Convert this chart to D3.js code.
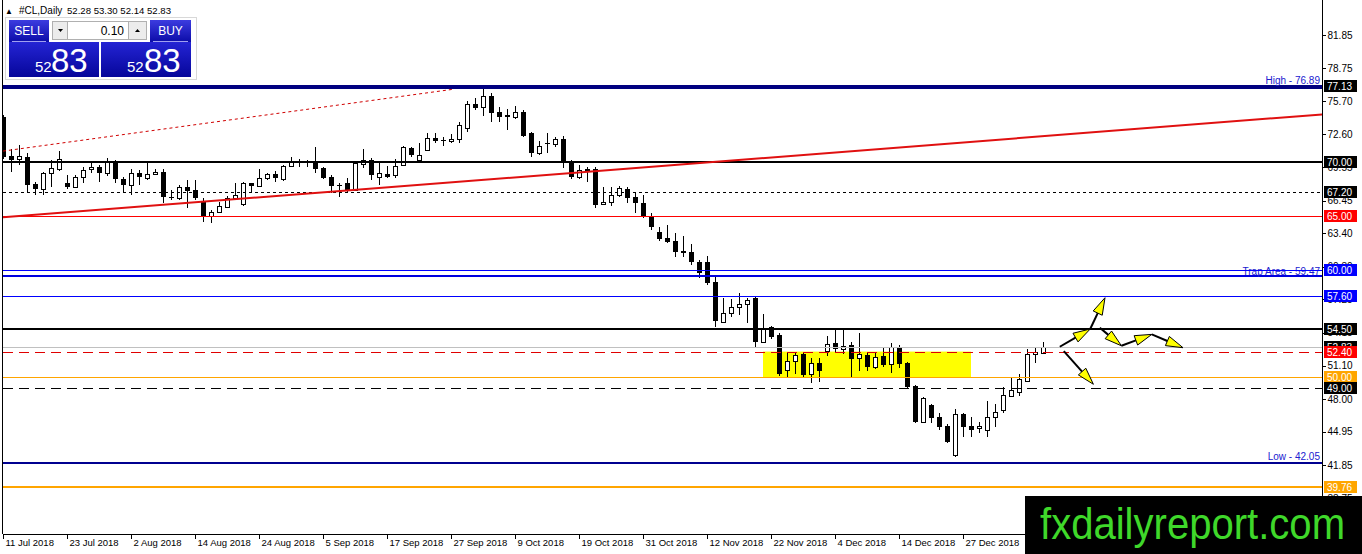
<!DOCTYPE html>
<html>
<head>
<meta charset="utf-8">
<script src="https://cdn.jsdelivr.net/npm/d3@7"></script>
<style>
html, body { margin: 0; padding: 0; background: #fff; overflow: hidden; }
svg { display: block; font-family: "Liberation Sans", Arial, sans-serif; }
</style>
</head>
<body>
<svg id="chart" width="1362" height="554"></svg>
<script>
// daily bars of #CL, 11 Jul 2018 .. 11 Jan 2019
const opens = [74.25,70.59,70.34,70.47,67.99,67.49,68.98,69.35,68.05,67.74,68.67,69.35,69.54,68.98,70.16,68.42,67.89,68.98,68.58,68.92,
  69.07,66.81,66.66,67.68,67.43,66.44,65.01,65.41,65.82,66.66,66.13,68.05,67.80,68.51,68.89,68.42,69.69,70.06,70.06,69.91,
  69.45,68.61,67.89,68.11,67.43,69.85,70.22,68.67,68.89,68.83,69.75,71.30,70.22,71.15,72.24,72.08,71.96,72.14,73.17,75.43,
  75.12,76.17,74.71,74.40,74.19,74.71,72.76,70.90,71.83,71.71,72.14,70.06,68.61,69.35,69.35,66.13,66.35,66.97,67.49,66.75,
  66.25,64.95,63.56,62.94,62.69,61.76,61.70,60.77,60.77,58.91,55.19,55.96,56.52,56.83,57.36,53.33,54.66,53.95,50.69,51.56,
  52.18,50.32,51.31,52.49,53.17,52.61,53.02,51.78,52.09,50.94,51.99,51.25,52.80,51.37,49.20,45.89,47.44,46.35,45.48,42.79,
  46.60,45.48,45.27,45.11,46.29,46.97,48.27,48.68,49.70,52.18,52.28];
const highs = [74.40,71.21,71.61,70.90,68.20,69.13,70.22,71.09,68.83,68.83,69.54,69.91,69.75,70.37,70.22,68.61,69.35,69.29,69.97,69.35,
  69.35,67.43,67.89,68.36,68.36,66.66,65.57,66.35,66.87,68.05,68.20,68.11,69.35,69.04,69.20,69.75,70.47,70.28,70.22,71.40,
  69.54,68.83,68.05,68.51,70.06,71.21,70.37,69.91,69.66,70.28,71.52,71.46,71.83,72.76,72.70,72.33,72.64,73.79,75.74,75.95,
  76.79,76.42,75.18,74.93,75.24,74.87,72.86,72.02,72.76,72.33,72.45,70.22,69.75,69.60,69.54,67.68,67.74,67.80,67.74,67.27,
  66.96,65.30,64.02,64.18,63.40,63.15,62.41,60.92,61.29,59.31,57.36,57.26,57.88,57.36,57.45,55.90,54.78,54.10,52.24,52.40,
  52.40,51.78,51.78,53.85,54.41,54.41,53.33,54.16,52.40,52.40,52.70,53.23,53.01,51.47,49.30,48.15,47.53,46.66,45.67,47.03,
  46.72,46.29,45.89,47.84,47.53,49.14,49.92,50.32,52.61,52.86,53.30];
const lows = [70.35,69.13,69.75,67.12,66.96,66.96,67.74,69.23,67.49,67.59,68.05,68.98,68.20,68.73,68.05,67.18,66.96,67.89,68.36,68.83,
  66.25,66.50,66.50,65.73,66.50,64.49,64.39,65.26,65.73,66.50,65.94,67.12,67.74,68.36,68.20,68.30,69.54,69.60,69.54,68.98,
  68.42,67.12,66.81,67.27,67.37,69.45,68.36,67.89,68.51,68.51,69.66,70.53,70.06,71.09,71.77,71.52,71.77,71.83,72.86,74.87,
  74.31,73.79,73.79,73.01,74.00,72.33,70.47,70.68,70.84,71.46,69.45,68.42,68.42,68.20,65.73,66.03,65.94,66.81,66.25,65.32,
  64.80,63.70,62.70,62.53,61.23,61.17,60.46,59.22,58.60,54.72,55.09,55.59,55.81,55.03,52.80,53.23,53.54,50.13,50.07,50.32,
  50.07,49.45,49.61,51.99,52.40,52.18,50.07,50.63,50.63,50.75,50.94,50.38,50.85,48.99,45.79,45.79,45.73,45.11,43.93,42.57,
  44.43,44.43,44.80,44.43,45.36,46.66,48.15,48.27,49.60,51.37,52.14];
const closes = [70.53,70.22,70.59,67.89,67.55,68.98,69.45,70.28,67.74,68.67,69.29,69.54,68.98,70.06,68.42,67.89,68.98,68.61,68.89,69.10,
  66.75,66.66,67.74,67.37,66.66,64.95,65.41,65.94,66.66,66.97,68.05,67.80,68.51,68.89,68.51,69.66,70.06,70.16,69.91,69.35,
  68.58,67.80,67.80,67.43,69.91,70.22,68.83,68.98,68.67,69.66,71.46,70.68,70.68,72.24,71.99,71.96,72.14,73.48,75.43,75.03,
  76.17,74.62,74.25,74.25,74.71,72.45,70.84,71.52,71.71,72.14,70.06,68.61,69.29,69.13,66.03,66.35,66.97,67.58,66.66,66.25,
  64.89,63.95,62.84,62.63,61.70,61.54,60.77,59.74,58.81,55.28,55.96,56.52,56.83,57.20,53.33,54.47,53.79,50.32,51.56,52.09,
  50.23,51.31,50.63,53.11,52.61,52.92,51.68,52.18,50.94,51.93,51.16,52.86,51.25,49.08,45.89,48.06,46.20,45.36,44.02,46.60,
  45.42,45.11,45.48,46.29,46.81,48.37,48.83,49.82,52.18,52.40,52.83];

const dateTicks = [0, 8, 16, 24, 32, 40, 48, 56, 64, 72, 80, 88, 96, 104, 112, 120];
const dateLabels = ['11 Jul 2018', '23 Jul 2018', '2 Aug 2018', '14 Aug 2018', '24 Aug 2018', '5 Sep 2018',
  '17 Sep 2018', '27 Sep 2018', '9 Oct 2018', '19 Oct 2018', '31 Oct 2018', '12 Nov 2018',
  '22 Nov 2018', '4 Dec 2018', '14 Dec 2018', '27 Dec 2018'];
const priceTicks = [81.85, 78.75, 75.70, 72.60, 69.55, 66.45, 63.40, 60.30, 57.25, 54.15, 51.10, 48.00, 44.95, 41.85, 38.75];

// horizontal levels drawn on the chart
const levelPrices = [77.13, 76.89, 70.00, 67.20, 65.00, 60.00, 59.47, 57.60, 54.50, 52.83, 52.40, 50.00, 49.00, 42.05, 39.76];
// price tags on the right scale
const tagPrices = [77.13, 70.00, 67.20, 65.00, 60.00, 57.60, 54.50, 52.83, 52.40, 50.00, 49.00, 39.76];
// trend lines as [bar, price] pairs
const trendMain = [[0, 64.89], [164.4, 74.43]];
const trendDotted = [[0, 71.05], [56.25, 76.80]];
// yellow range box: bars and prices
const zoneBars = [95, 121];
const zonePrices = [52.40, 50.00];
// hand-drawn arrows, [bar, price] -> [bar, price]
const arrows = [
  [[132.1, 52.85], [135.9, 54.50]],
  [[135.9, 54.50], [137.75, 57.41]],
  [[137.1, 54.62], [139.8, 52.94]],
  [[139.8, 52.94], [143.6, 54.00]],
  [[143.6, 54.00], [147.5, 52.76]],
  [[132.6, 52.45], [136.3, 49.36]]
];
const header = { symbol: '#CL,Daily', ohlc: '52.28 53.30 52.14 52.83', lot: '0.10', bidBig: '83', bidSmall: '52', askBig: '83', askSmall: '52' };

const plot = { left: 3, right: 1322, top: 0, bottom: 534 };
const svg = d3.select('#chart');

const x = d3.scaleLinear().domain([0, 130]).range([3, 1043]);
const y = d3.scaleLinear().domain([81.85, 41.85]).range([35, 465]);
const py = p => Math.round(y(p));

svg.append('defs').append('clipPath').attr('id', 'plotclip')
  .append('rect').attr('x', plot.left).attr('y', plot.top)
  .attr('width', plot.right - plot.left).attr('height', plot.bottom - plot.top);

const g = svg.append('g').attr('clip-path', 'url(#plotclip)');

// yellow box
g.append('rect')
  .attr('x', x(zoneBars[0])).attr('y', y(zonePrices[0]))
  .attr('width', x(zoneBars[1]) - x(zoneBars[0]))
  .attr('height', y(zonePrices[1]) - y(zonePrices[0]))
  .attr('fill', '#ffff00');

// candles
const bars = d3.range(opens.length).map(i => ({ i, o: opens[i], h: highs[i], l: lows[i], c: closes[i] }));
const cg = g.append('g').attr('shape-rendering', 'crispEdges');
cg.selectAll('line.wick').data(bars).enter().append('line')
  .attr('x1', d => Math.round(x(d.i)) + 0.5).attr('x2', d => Math.round(x(d.i)) + 0.5)
  .attr('y1', d => py(d.h)).attr('y2', d => py(d.l))
  .attr('stroke', '#000').attr('stroke-width', 1);
cg.selectAll('rect.body').data(bars).enter().append('rect')
  .attr('x', d => Math.round(x(d.i)) - (d.c >= d.o ? 1.5 : 2))
  .attr('y', d => py(Math.max(d.o, d.c)) + (d.c >= d.o ? 0.5 : 0))
  .attr('width', d => d.c >= d.o ? 4 : 5)
  .attr('height', d => Math.max(1, py(Math.min(d.o, d.c)) - py(Math.max(d.o, d.c))) - (d.c >= d.o ? 0 : 0))
  .attr('fill', d => d.c >= d.o ? '#fff' : '#000')
  .attr('stroke', d => d.c >= d.o ? '#000' : 'none')
  .attr('stroke-width', 1);

// horizontal levels
const levelStyle = [
  { stroke: '#000080', w: 2 },
  { stroke: '#000080', w: 2 },
  { stroke: '#000000', w: 2 },
  { stroke: '#000000', w: 1, dash: '3,3' },
  { stroke: '#ff0000', w: 1 },
  { stroke: '#0000ff', w: 1 },
  { stroke: '#0000e0', w: 2 },
  { stroke: '#0000ff', w: 1 },
  { stroke: '#000000', w: 2 },
  { stroke: '#c0c0c0', w: 1 },
  { stroke: '#e00000', w: 1, dash: '10,6' },
  { stroke: '#ffa500', w: 1 },
  { stroke: '#000000', w: 1, dash: '10,6' },
  { stroke: '#000090', w: 2 },
  { stroke: '#ffa500', w: 2 }
];
const lg = g.append('g').attr('shape-rendering', 'crispEdges');
lg.selectAll('line').data(levelPrices).enter().append('line')
  .attr('x1', plot.left).attr('x2', plot.right)
  .attr('y1', (d, i) => py(d) + (levelStyle[i].w === 1 ? 0.5 : 0))
  .attr('y2', (d, i) => py(d) + (levelStyle[i].w === 1 ? 0.5 : 0))
  .attr('stroke', (d, i) => levelStyle[i].stroke)
  .attr('stroke-width', (d, i) => levelStyle[i].w)
  .attr('stroke-dasharray', (d, i) => levelStyle[i].dash || null);

// trend lines
const t0 = trendMain[0], t1 = trendMain[1];
const slope = (t1[1] - t0[1]) / (t1[0] - t0[0]);
const farBar = x.invert(plot.right + 5);
g.append('line')
  .attr('x1', x(t0[0])).attr('y1', y(t0[1]))
  .attr('x2', x(farBar)).attr('y2', y(t0[1] + slope * (farBar - t0[0])))
  .attr('stroke', '#e01010').attr('stroke-width', 2);
g.append('line')
  .attr('x1', x(trendDotted[0][0])).attr('y1', y(trendDotted[0][1]))
  .attr('x2', x(trendDotted[1][0])).attr('y2', y(trendDotted[1][1]))
  .attr('stroke', '#d00000').attr('stroke-width', 1).attr('stroke-dasharray', '3,3');

// arrows
const ag = g.append('g');
arrows.forEach(([a, b]) => {
  const x0 = x(a[0]), y0 = y(a[1]), x1 = x(b[0]), y1 = y(b[1]);
  const len = Math.hypot(x1 - x0, y1 - y0);
  const ux = (x1 - x0) / len, uy = (y1 - y0) / len;
  const hl = 17, hw = 5;
  const bx = x1 - ux * hl, by = y1 - uy * hl;
  ag.append('line').attr('x1', x0).attr('y1', y0).attr('x2', bx).attr('y2', by)
    .attr('stroke', '#000').attr('stroke-width', 2);
  ag.append('path')
    .attr('d', `M${x1},${y1}L${bx - uy * hw},${by + ux * hw}L${bx + uy * hw},${by - ux * hw}Z`)
    .attr('fill', '#ffff00').attr('stroke', '#000').attr('stroke-width', 1);
});

// object labels
const notes = [
  { text: 'High - 76.89', p: 76.89, dy: -4 },
  { text: 'Trap Area - 59.47', p: 59.47, dy: -1 },
  { text: 'Low - 42.05', p: 42.05, dy: -3 }
];
g.selectAll('text.note').data(notes).enter().append('text')
  .attr('x', plot.right - 2).attr('y', d => y(d.p) + d.dy)
  .attr('text-anchor', 'end').attr('font-size', 10).attr('fill', '#2020d0')
  .text(d => d.text);
// strike-through line of the trap note sits over the text
g.append('line').attr('x1', 1240).attr('x2', plot.right)
  .attr('y1', py(60.00) + 0.5).attr('y2', py(60.00) + 0.5)
  .attr('stroke', '#0000ff').attr('stroke-width', 1).attr('shape-rendering', 'crispEdges');

// frame
svg.append('line').attr('x1', 2.5).attr('x2', 2.5).attr('y1', 0).attr('y2', plot.bottom)
  .attr('stroke', '#000').attr('shape-rendering', 'crispEdges');
svg.append('line').attr('x1', plot.right + 0.5).attr('x2', plot.right + 0.5).attr('y1', 0).attr('y2', plot.bottom)
  .attr('stroke', '#000').attr('shape-rendering', 'crispEdges');

// bottom date axis
const xAxis = d3.axisBottom(x).tickValues(dateTicks).tickFormat((d, i) => dateLabels[i]).tickSize(4).tickSizeOuter(0);
const xg = svg.append('g').attr('transform', `translate(0,${plot.bottom + 0.5})`).call(xAxis);
xg.select('.domain').attr('d', `M${plot.left},0H${plot.right}`).attr('stroke', '#000');
xg.selectAll('.tick line').attr('stroke', '#000').attr('shape-rendering', 'crispEdges');
xg.selectAll('.tick text').attr('text-anchor', 'start').attr('x', 2).attr('y', 3)
  .attr('dy', '0.85em').attr('font-size', 9.5).attr('font-family', '"Liberation Sans", Arial, sans-serif').attr('fill', '#000');

// right price axis
const yAxis = d3.axisRight(y).tickValues(priceTicks).tickFormat(d3.format('.2f')).tickSize(3);
const yg = svg.append('g').attr('transform', `translate(${plot.right + 0.5},0)`).call(yAxis);
yg.select('.domain').remove();
yg.selectAll('.tick line').attr('stroke', '#000').attr('shape-rendering', 'crispEdges');
yg.selectAll('.tick text').attr('x', 5).attr('font-size', 10)
  .attr('font-family', '"Liberation Sans", Arial, sans-serif').attr('fill', '#000');

// price tags
const tagFill = { '65.00': '#ff0000', '52.40': '#ff0000', '60.00': '#0000ff', '57.60': '#0000ff', '50.00': '#ffa500', '39.76': '#ffa500' };
const tags = svg.append('g');
tagPrices.forEach(p => {
  const key = p.toFixed(2);
  const cy = py(p);
  tags.append('rect').attr('x', plot.right + 2).attr('y', cy - 6).attr('width', 33).attr('height', 12)
    .attr('fill', tagFill[key] || '#000');
  tags.append('text').attr('x', plot.right + 5).attr('y', cy + 4).attr('font-size', 10).attr('fill', '#fff').text(key);
});

// watermark
svg.append('rect').attr('x', 1025).attr('y', 496).attr('width', 337).attr('height', 58).attr('fill', '#000');
svg.append('text').attr('x', 1040).attr('y', 539).attr('font-size', 45)
  .attr('textLength', 305).attr('lengthAdjust', 'spacingAndGlyphs')
  .attr('fill', '#3fd82a').text('fxdailyreport.com');

// header and one-click panel
svg.append('text').attr('x', 5).attr('y', 14).attr('font-size', 8).attr('fill', '#000').text('\u25B2');
svg.append('text').attr('x', 19).attr('y', 14).attr('font-size', 10).attr('fill', '#000').text(header.symbol);
svg.append('text').attr('x', 67).attr('y', 14).attr('font-size', 9.6).attr('fill', '#000').text(header.ohlc);

const pg = svg.append('g');
const grad = svg.select('defs').append('linearGradient').attr('id', 'btn').attr('x1', 0).attr('y1', 0).attr('x2', 0).attr('y2', 1);
grad.append('stop').attr('offset', '0%').attr('stop-color', '#3c3ce0');
grad.append('stop').attr('offset', '100%').attr('stop-color', '#0c0ca8');
const grad2 = svg.select('defs').append('linearGradient').attr('id', 'big').attr('x1', 0).attr('y1', 0).attr('x2', 0).attr('y2', 1);
grad2.append('stop').attr('offset', '0%').attr('stop-color', '#2424d4');
grad2.append('stop').attr('offset', '100%').attr('stop-color', '#06069a');

pg.append('rect').attr('x', 5.5).attr('y', 17.5).attr('width', 191).attr('height', 62).attr('fill', '#fff').attr('stroke', '#d8d8d8');
pg.append('rect').attr('x', 9).attr('y', 20).attr('width', 40).attr('height', 22).attr('fill', 'url(#btn)');
pg.append('rect').attr('x', 150).attr('y', 20).attr('width', 41).attr('height', 22).attr('fill', 'url(#btn)');
pg.append('rect').attr('x', 9).attr('y', 42).attr('width', 90).attr('height', 35).attr('fill', 'url(#big)');
pg.append('rect').attr('x', 101).attr('y', 42).attr('width', 90).attr('height', 35).attr('fill', 'url(#big)');
pg.append('line').attr('x1', 12).attr('x2', 46).attr('y1', 41.5).attr('y2', 41.5).attr('stroke', '#a0a0f0');
pg.append('line').attr('x1', 153).attr('x2', 188).attr('y1', 41.5).attr('y2', 41.5).attr('stroke', '#a0a0f0');
pg.append('rect').attr('x', 52.5).attr('y', 21.5).attr('width', 15).attr('height', 18).attr('fill', '#ececec').attr('stroke', '#b0b0b0');
pg.append('rect').attr('x', 67.5).attr('y', 21.5).attr('width', 61).attr('height', 18).attr('fill', '#fff').attr('stroke', '#b0b0b0');
pg.append('rect').attr('x', 128.5).attr('y', 21.5).attr('width', 18).attr('height', 18).attr('fill', '#ececec').attr('stroke', '#b0b0b0');
pg.append('path').attr('d', 'M58,29L63,29L60.5,32Z').attr('fill', '#000');
pg.append('path').attr('d', 'M135,32L140,32L137.5,29Z').attr('fill', '#000');
pg.append('text').attr('x', 124).attr('y', 35).attr('text-anchor', 'end').attr('font-size', 12).attr('fill', '#000').text(header.lot);
pg.append('text').attr('x', 29).attr('y', 35).attr('text-anchor', 'middle').attr('font-size', 12).attr('fill', '#fff').text('SELL');
pg.append('text').attr('x', 170.5).attr('y', 35).attr('text-anchor', 'middle').attr('font-size', 12).attr('fill', '#fff').text('BUY');
pg.append('text').attr('x', 35).attr('y', 72).attr('font-size', 15).attr('fill', '#fff').text(header.bidSmall);
pg.append('text').attr('x', 51).attr('y', 72).attr('font-size', 33).attr('fill', '#fff').text(header.bidBig);
pg.append('text').attr('x', 127).attr('y', 72).attr('font-size', 15).attr('fill', '#fff').text(header.askSmall);
pg.append('text').attr('x', 144).attr('y', 72).attr('font-size', 33).attr('fill', '#fff').text(header.askBig);
</script>
</body>
</html>
